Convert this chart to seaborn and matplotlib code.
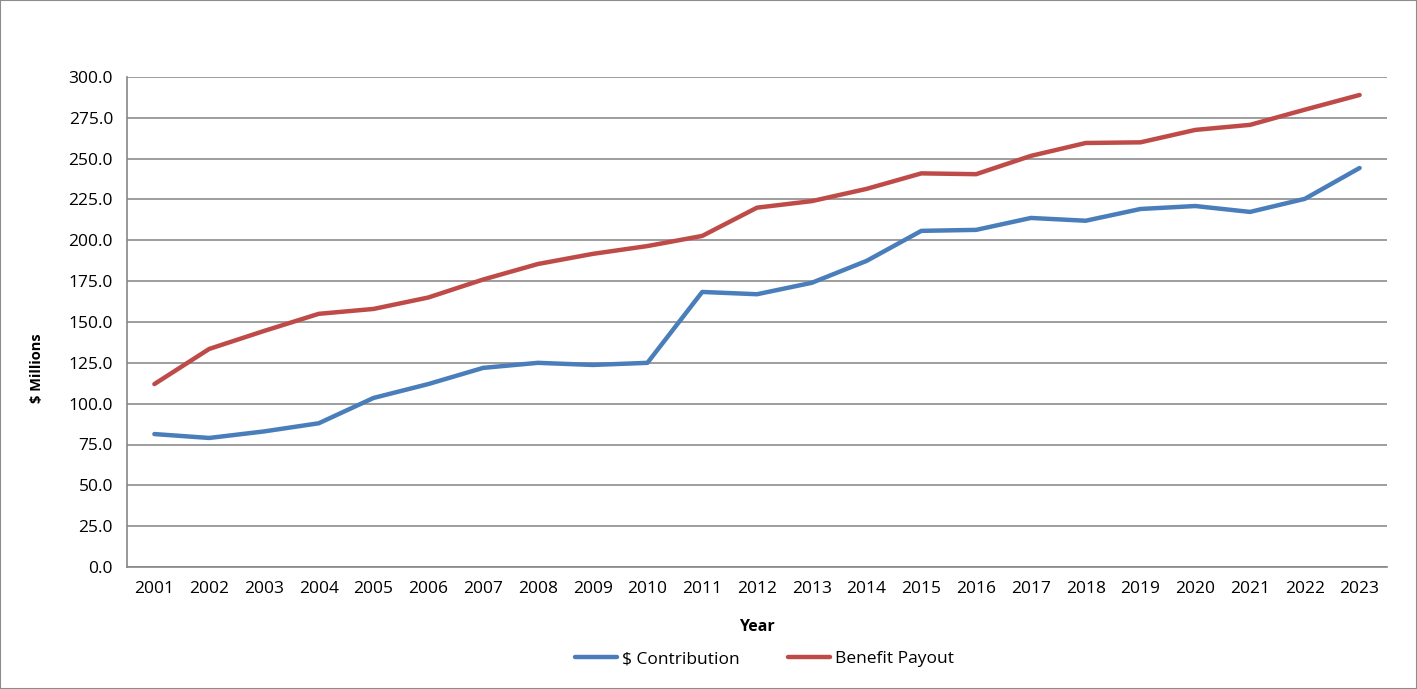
#!/usr/bin/env python3
# Contributions vs benefit payouts, 2001-2023

import numpy as np
import pandas as pd
import seaborn as sns
import matplotlib.pyplot as plt

sns.set_style("white")
plt.rcParams['font.family'] = ['Open Sans', 'DejaVu Sans']
plt.rcParams['text.color'] = 'black'
plt.rcParams['axes.labelcolor'] = 'black'
plt.rcParams['xtick.color'] = 'black'
plt.rcParams['ytick.color'] = 'black'

YEARS = list(range(2001, 2024))
CONTRIBUTION = [81.4, 79.0, 83.0, 88.0, 103.5, 112.0, 121.9, 125.0, 123.7, 125.0,
                168.4, 167.0, 174.0, 187.4, 205.8, 206.4, 213.7, 212.0, 219.2, 221.0,
                217.4, 225.4, 244.3]
PAYOUT = [112.0, 133.5, 144.5, 155.0, 158.0, 165.0, 176.0, 185.5, 191.7, 196.5,
          202.7, 220.0, 224.0, 231.5, 241.0, 240.5, 251.7, 259.6, 260.0, 267.6,
          270.7, 280.0, 289.0]
SERIES = ["$ Contribution", "Benefit Payout"]
COLORS = ["#4a7ebb", "#be4b48"]

df = pd.DataFrame({"Year": YEARS, SERIES[0]: CONTRIBUTION, SERIES[1]: PAYOUT})
long = df.melt(id_vars="Year", var_name="series", value_name="value")
long["pos"] = long["Year"] - 2000

fig = plt.figure(figsize=(14.17, 6.89), dpi=100)
ax = fig.add_axes([127 / 1417, 1 - 567 / 689, 1260 / 1417, 490 / 689])

sns.lineplot(data=long, x="pos", y="value", hue="series", hue_order=SERIES,
             palette=COLORS, linewidth=3.2, ax=ax)

ax.set_xlim(0.5, 23.5)
ax.set_ylim(0, 300)
ax.set_yticks(np.arange(0, 301, 25))
ax.set_yticklabels([f"{v:.1f}" for v in np.arange(0, 301, 25)], fontsize=12.5)
ax.set_xticks(np.arange(0.5, 24, 1))
ax.set_xticklabels([])
ax.set_xticks(np.arange(1, 24), minor=True)
ax.set_xticklabels([str(y) for y in YEARS], minor=True, fontsize=12.5)
ax.tick_params(axis='x', which='major', length=6, color='#868686', width=1.2)
ax.tick_params(axis='x', which='minor', length=0, pad=10)
ax.tick_params(axis='y', length=7, color='#868686', width=1.2, pad=3)
ax.grid(axis='y', color='#8c8c8c', linewidth=1.2)
ax.set_axisbelow(True)
for s in ['top', 'right']:
    ax.spines[s].set_visible(False)
for s in ['left', 'bottom']:
    ax.spines[s].set_color('#868686')
    ax.spines[s].set_linewidth(1.2)

ax.set_xlabel("Year", fontsize=11.5, fontweight='bold', labelpad=16)
ax.set_ylabel("$ Millions", fontsize=10.5, fontweight='bold')
ax.yaxis.set_label_coords(-0.0655, 0.405)

handles, labels = ax.get_legend_handles_labels()
ax.legend(handles, labels, loc='center', bbox_to_anchor=(0.506, -0.188),
          ncol=2, frameon=False, fontsize=12.5, handlelength=2.4,
          columnspacing=2.8, handletextpad=0.3)

fig.patches.append(plt.Rectangle((0, 0), 1, 1, transform=fig.transFigure,
                                 fill=False, edgecolor='#8c8c8c', linewidth=1.5))

plt.savefig("out.png", dpi=100)
